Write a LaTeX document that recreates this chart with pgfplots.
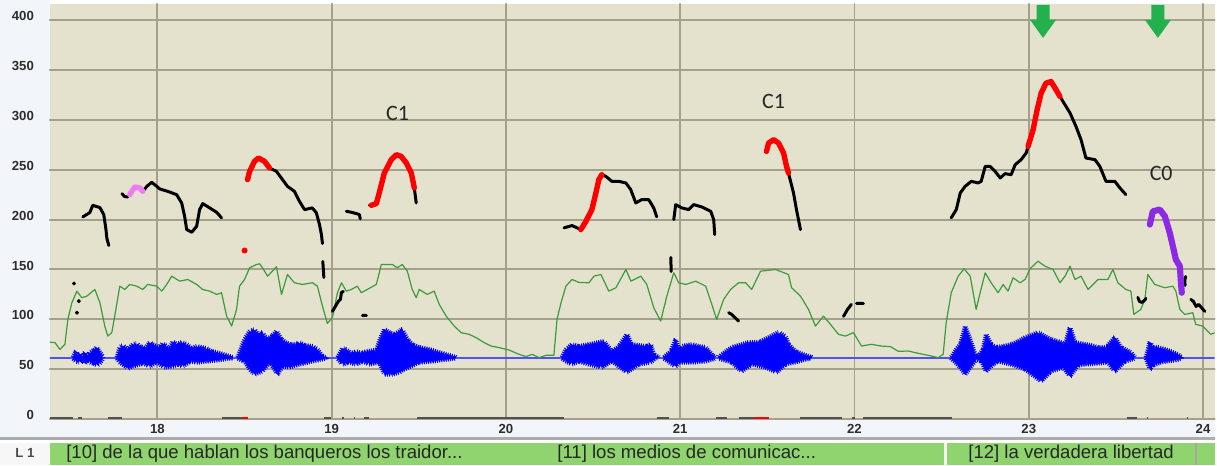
\documentclass[border=0pt]{standalone}
\usepackage{fontspec}
\setmainfont{Liberation Sans}
\newfontfamily\carlito{Carlito}
\usepackage{pgfplots}
\pgfplotsset{compat=1.18}
\usetikzlibrary{decorations.pathmorphing}

\definecolor{bgbeige}{RGB}{228,226,205}
\definecolor{gridgray}{RGB}{165,160,140}
\definecolor{stripbg}{RGB}{242,245,250}
\definecolor{labelgray}{RGB}{45,45,45}
\definecolor{wavblue}{RGB}{0,0,255}
\definecolor{baseblue}{RGB}{80,80,255}
\definecolor{intgreen}{RGB}{60,155,60}
\definecolor{pitchred}{RGB}{255,0,0}
\definecolor{pitchpink}{RGB}{240,125,240}
\definecolor{pitchpurple}{RGB}{140,40,230}
\definecolor{arrowgreen}{RGB}{34,177,76}
\definecolor{bargreen}{RGB}{143,212,110}
\definecolor{rulergray}{RGB}{80,80,80}

\pgfplotsset{wave/.style={fill=wavblue, draw=wavblue, line width=0.3pt,
    decorate, decoration={zigzag, segment length=1.1pt, amplitude=1.1pt}}}

\begin{document}
\begin{tikzpicture}
% background of the whole window
\fill[stripbg] (-25pt,-23pt) rectangle (583.5pt,210pt);
\fill[white] (0pt,208pt) rectangle (583.5pt,210pt);

\begin{axis}[
    name=ax, at={(0pt,0pt)}, anchor=south west,
    scale only axis, width=583.5pt, height=208pt,
    xmin=17.383, xmax=24.067, ymin=0, ymax=416,
    xtick={18,19,20,21,22,23,24},
    ytick={0,50,100,150,200,250,300,350,400},
    grid=major,
    major grid style={draw=gridgray, line width=1pt},
    axis line style={draw=none},
    major tick length=0pt,
    axis background/.style={fill=bgbeige},
    /pgf/number format/assume math mode=true,
    ticklabel style={font=\fontsize{6.6}{7}\selectfont\bfseries, text=labelgray},
    yticklabel style={xshift=-4.5pt, yshift=2pt},
    xticklabel style={yshift=1pt},
    unbounded coords=jump,
    line cap=round, line join=round,
]

% waveform baseline
\addplot[draw=baseblue, line width=0.9pt] coordinates {(17.383,61.7) (24.067,61.7)};

% waveform envelopes
\addplot[wave] coordinates {
(17.515,62)(17.532,68)(17.545,64)(17.555,66)(17.570,63)(17.584,67)(17.600,64)(17.612,67)(17.635,69)(17.652,72)(17.670,67)(17.687,63)
(17.687,61)(17.670,56)(17.652,54)(17.635,56)(17.612,57)(17.600,59)(17.584,56)(17.570,59)(17.555,57)(17.532,58)(17.515,61)} -- cycle;

\addplot[wave] coordinates {
(17.767,62)(17.784,72)(17.801,74)(17.830,70)(17.859,75)(17.880,76)(17.899,73)(17.930,71)(17.956,77)(17.973,75)(18.013,72)(18.030,76)(18.053,73)(18.070,70)(18.088,78)(18.110,75)(18.140,77)(18.168,75)(18.195,71)(18.225,73)(18.282,71)(18.310,68)(18.340,67)(18.397,64)(18.431,62)
(18.431,61)(18.414,61)(18.340,59)(18.282,58)(18.225,57)(18.190,58)(18.145,53)(18.120,55)(18.088,53)(18.040,52)(17.996,57)(17.956,53)(17.920,56)(17.859,53)(17.830,51)(17.784,57)(17.767,61)} -- cycle;

\addplot[wave] coordinates {
(18.460,62)(18.500,80)(18.529,88)(18.557,90)(18.580,84)(18.603,87)(18.626,80)(18.655,83)(18.683,88)(18.712,80)(18.735,77)(18.758,75)(18.798,75)(18.815,77)(18.844,74)(18.889,73)(18.918,70)(18.947,63)(18.970,62)
(18.970,61)(18.941,60)(18.889,58)(18.815,55)(18.758,52)(18.718,53)(18.689,45)(18.665,52)(18.643,57)(18.603,48)(18.557,45)(18.529,50)(18.500,58)(18.460,61)} -- cycle;

\addplot[wave] coordinates {
(19.033,62)(19.061,71)(19.084,70)(19.110,66)(19.142,68)(19.170,66)(19.199,68)(19.256,69)(19.273,78)(19.302,90)(19.331,87)(19.359,85)(19.388,88)(19.405,90)(19.434,80)(19.462,75)(19.502,72)(19.560,70)(19.617,67)(19.674,64)(19.714,62)
(19.714,61)(19.657,60)(19.577,58)(19.502,57)(19.456,53)(19.416,50)(19.388,47)(19.348,45)(19.302,45)(19.273,57)(19.216,55)(19.180,58)(19.142,55)(19.100,57)(19.061,55)(19.033,61)} -- cycle;

\addplot[wave] coordinates {
(20.321,62)(20.344,70)(20.379,75)(20.419,73)(20.476,75)(20.533,77)(20.562,78)(20.608,68)(20.648,73)(20.694,85)(20.722,75)(20.762,74)(20.802,73)(20.831,75)(20.848,65)(20.877,62)
(20.877,61)(20.860,61.7)(20.831,57)(20.762,55)(20.694,47)(20.608,58)(20.550,52)(20.476,55)(20.419,58)(20.379,55)(20.344,58)(20.321,61)} -- cycle;

\addplot[wave] coordinates {
(20.906,62)(20.946,68)(20.974,80)(20.991,70)(21.009,73)(21.066,75)(21.106,73)(21.146,72)(21.180,65)(21.203,62)
(21.203,61)(21.146,58)(21.066,57)(20.991,57)(20.974,53)(20.946,56)(20.906,61)} -- cycle;

\addplot[wave] coordinates {
(21.221,62)(21.238,65)(21.295,72)(21.352,75)(21.392,77)(21.450,77)(21.507,82)(21.564,87)(21.604,83)(21.621,75)(21.662,68)(21.719,64)(21.753,62)
(21.753,61)(21.736,60.7)(21.679,58)(21.604,55)(21.553,47)(21.490,52)(21.410,55)(21.352,48)(21.295,57)(21.238,60)(21.221,61)} -- cycle;

\addplot[wave] coordinates {
(22.555,62)(22.584,70)(22.607,75)(22.635,93)(22.664,80)(22.692,65)(22.710,63)(22.738,70)(22.755,85)(22.784,75)(22.813,72)(22.853,73)(22.899,75)(22.939,78)(22.979,82)(23.013,84)(23.053,87)(23.093,83)(23.128,80)(23.168,78)(23.208,75)(23.237,92)(23.265,77)(23.323,75)(23.357,74)(23.397,72)(23.443,72)(23.494,82)(23.529,72)(23.586,67)(23.609,62)
(23.609,61)(23.552,58)(23.494,48)(23.454,57)(23.397,56)(23.323,55)(23.282,54)(23.237,43)(23.196,52)(23.128,48)(23.071,38)(23.025,44)(22.979,50)(22.899,55)(22.824,58)(22.796,55)(22.755,48)(22.727,58)(22.698,60)(22.670,53)(22.635,45)(22.607,52)(22.584,56)(22.555,61)} -- cycle;

\addplot[wave] coordinates {
(23.672,62)(23.695,77)(23.712,72)(23.741,72)(23.781,70)(23.815,68)(23.855,65)(23.878,62)
(23.878,61)(23.838,59)(23.786,58)(23.758,57)(23.712,54)(23.695,50)(23.672,61)} -- cycle;

% intensity curve
\addplot[intgreen, line width=0.6pt] coordinates {
(17.383,77.3)(17.412,76.7)(17.440,70)(17.469,75)(17.486,100)(17.509,116.7)(17.538,128.3)(17.566,121.7)(17.595,123.3)(17.641,130)(17.670,116.7)(17.698,93.3)(17.715,83.3)(17.738,86.7)(17.755,103.3)(17.784,133.3)(17.813,130)(17.841,135)(17.881,133.3)(17.916,130)(17.944,135)(17.996,133.3)(18.025,128.3)(18.053,135)(18.082,143.3)(18.128,138.3)(18.174,140)(18.225,135)(18.259,130)(18.300,128.3)(18.340,125)(18.368,126.7)(18.397,103.3)(18.426,93.3)(18.454,110)(18.471,133.3)(18.500,140)(18.529,151.7)(18.569,155)(18.586,155.7)(18.603,151.7)(18.632,143.3)(18.683,152.7)(18.712,125)(18.746,145)(18.786,136.7)(18.832,135)(18.889,136.7)(18.918,133.3)(18.947,113.3)(18.975,96)(19.004,101.7)(19.033,126.7)(19.056,136.7)(19.084,128.3)(19.113,130)(19.147,133.3)(19.170,126.7)(19.204,130)(19.256,135)(19.285,155)(19.348,155)(19.376,151.7)(19.405,155)(19.434,148.3)(19.462,130)(19.485,121.7)(19.502,130)(19.548,125)(19.588,128.3)(19.617,115)(19.657,103.3)(19.703,93.3)(19.743,86.7)(19.789,85)(19.829,81.7)(19.875,76.7)(19.915,73.3)(19.961,71.7)(20.018,69.3)(20.075,65)(20.115,62.7)(20.150,65)(20.190,61.7)(20.230,64)(20.275,64)(20.293,100)(20.316,116.7)(20.344,133.3)(20.379,140)(20.419,137)(20.476,136.7)(20.505,143.3)(20.545,145)(20.590,128.3)(20.631,131.7)(20.688,150)(20.717,138.3)(20.774,143.3)(20.808,135)(20.848,111.7)(20.888,98.3)(20.923,123.3)(20.963,146.7)(20.991,136.7)(21.032,135)(21.089,138.3)(21.146,133.3)(21.175,118.3)(21.209,100)(21.249,120)(21.289,130)(21.335,136.7)(21.375,136.7)(21.410,130)(21.461,148.3)(21.547,150)(21.621,145)(21.639,131.7)(21.690,123.3)(21.736,110)(21.776,93.3)(21.822,103.3)(21.862,95)(21.908,85)(21.948,83.3)(21.994,86.7)(22.040,73.3)(22.097,75)(22.154,73.3)(22.206,72.7)(22.251,68)(22.309,68.3)(22.366,66)(22.423,64)(22.480,61.7)(22.509,65)(22.526,96.7)(22.555,126.7)(22.595,143.3)(22.629,150.7)(22.664,143.3)(22.698,110)(22.721,126.7)(22.750,146.7)(22.784,136.7)(22.824,126.7)(22.853,135)(22.881,128.3)(22.910,141.7)(22.950,136.7)(22.979,140)(23.007,150.7)(23.053,158.3)(23.093,153.3)(23.139,150)(23.179,136.7)(23.208,143.3)(23.237,153.3)(23.265,140)(23.300,143.3)(23.340,130)(23.397,140)(23.454,140)(23.483,150)(23.511,136.7)(23.557,130)(23.586,128.3)(23.603,105)(23.643,110)(23.666,120)(23.683,145)(23.723,135)(23.781,131.7)(23.827,133.3)(23.844,128.3)(23.867,110)(23.895,105)(23.941,106.7)(23.958,95)(23.998,93.3)(24.044,85)(24.067,86.7)};

% ruler marks at the bottom
\addplot[rulergray, line width=1pt, line cap=butt] coordinates {
(17.383,1.3)(17.515,1.3) (17.52,nan) (17.544,1.3)(17.566,1.3) (17.6,nan) (17.715,1.3)(17.796,1.3) (17.8,nan) (18.368,1.3)(18.483,1.3) (18.5,nan)
(18.958,1.3)(18.998,1.3) (19.0,nan) (19.061,1.3)(19.073,1.3) (19.1,nan) (19.130,1.3)(19.136,1.3) (19.15,nan) (19.187,1.3)(19.216,1.3) (19.3,nan)
(19.491,1.3)(20.333,1.3) (20.5,nan) (20.865,1.3)(20.934,1.3) (21.0,nan) (21.203,1.3)(21.266,1.3) (21.3,nan) (21.335,1.3)(21.421,1.3) (21.5,nan)
(21.690,1.3)(21.931,1.3) (21.95,nan) (21.988,1.3)(22.005,1.3) (22.02,nan) (22.051,1.3)(22.561,1.3) (22.6,nan) (23.563,1.3)(23.620,1.3) (23.65,nan)
(23.680,1.3)(23.686,1.3) (23.7,nan) (23.909,1.3)(23.915,1.3)};
\addplot[pitchred, line width=1pt, line cap=butt] coordinates {
(18.483,1.3)(18.517,1.3) (19,nan) (21.421,1.3)(21.507,1.3)};

% pitch contour, black parts
\addplot[black, line width=1.5pt] coordinates {
(17.572,202.7)(17.612,207)(17.629,214.3)(17.670,212)(17.692,205)(17.704,191)(17.710,181)(17.721,174) (17.75,nan)
(17.796,226)(17.812,223)(17.830,222.7) (17.87,nan)
(17.916,228.3)(17.939,233.3)(17.967,237.3)(17.996,233.3)(18.013,230.7)(18.059,228.3)(18.110,225)(18.139,216.7)(18.156,203.3)(18.168,190)(18.197,187.3)(18.225,193.3)(18.242,210)(18.260,216)(18.300,211.7)(18.340,207.3)(18.368,201.7) (18.5,nan)
(18.643,251.7)(18.683,248.3)(18.718,240)(18.746,233.3)(18.786,228.3)(18.815,218.3)(18.844,210)(18.889,211.7)(18.912,206.7)(18.930,195)(18.941,185)(18.947,176) (18.948,nan)
(18.949,158)(18.955,142) (18.98,nan)
(19.004,108)(19.021,113)(19.038,118)(19.050,120)(19.056,127)(19.067,128) (19.07,nan)
(19.084,208.3)(19.113,207.3)(19.142,206)(19.159,205)(19.164,200.7) (19.17,nan)
(19.176,104)(19.199,104) (19.21,nan)
(19.216,214.3)(19.227,214.3) (19.3,nan)
(19.474,231.7)(19.485,216.7) (20,nan)
(20.333,191.7)(20.379,194)(20.430,190) (20.5,nan)
(20.550,245)(20.573,243.3)(20.608,238.3)(20.648,238.3)(20.688,236.7)(20.716,230)(20.745,216.7)(20.779,220)(20.819,220)(20.848,211.7)(20.865,202.7) (20.9,nan)
(20.946,162)(20.948,148) (20.95,nan)
(20.963,200)(20.974,215)(21.009,211.7)(21.049,210)(21.077,215)(21.123,212.7)(21.175,208.3)(21.192,200)(21.198,185) (21.25,nan)
(21.278,106.7)(21.295,105)(21.335,98.3) (21.5,nan)
(21.621,246.7)(21.650,226.7)(21.667,210)(21.690,190) (21.8,nan)
(21.937,103)(21.960,110)(21.982,115) (22.0,nan)
(22.011,116)(22.051,116) (22.3,nan)
(22.555,201.7)(22.584,210)(22.607,226.7)(22.635,233.3)(22.670,238.3)(22.710,236.7)(22.727,238.3)(22.750,253.3)(22.778,253.3)(22.807,248.3)(22.836,241.7)(22.864,246)(22.899,245)(22.922,255)(22.956,260)(22.985,266.7)(22.996,273.3) (23.1,nan)
(23.179,323.3)(23.208,315)(23.237,306.7)(23.271,293.3)(23.300,280)(23.328,261.7)(23.380,260)(23.408,253.3)(23.443,238.3)(23.494,238.3)(23.523,231.7)(23.557,225) (23.6,nan)
(23.626,122)(23.635,118)(23.650,117)(23.664,119)(23.672,121) (23.8,nan)
(23.900,143)(23.895,139)(23.897,134) (23.92,nan)
(23.930,120)(23.945,118)(23.960,113)(23.975,115)(23.990,112)(24.010,108)};

% pitch contour, highlighted parts
\addplot[pitchred, line width=2.7pt] coordinates {
(18.517,240)(18.529,248.3)(18.557,258.3)(18.580,261.7)(18.615,258.3)(18.643,251.7) (19,nan)
(19.227,214.3)(19.256,216)(19.273,226.7)(19.302,246.7)(19.342,260)(19.371,265)(19.399,263.3)(19.428,256.7)(19.457,246.7)(19.474,231.7) (20,nan)
(20.430,190)(20.459,198.3)(20.493,210)(20.516,226.7)(20.533,240)(20.550,245) (21,nan)
(21.495,268.3)(21.507,276.7)(21.536,280)(21.564,276.7)(21.593,266.7)(21.610,253.3)(21.621,246.7) (22,nan)
(22.996,273.3)(23.025,290)(23.048,310)(23.071,326.7)(23.099,336.7)(23.128,338.3)(23.151,331.7)(23.179,323.3)};
\addplot[pitchpink, line width=2.7pt] coordinates {
(17.841,225)(17.870,232.7)(17.899,231.7)(17.916,228.3)};
\addplot[pitchpurple, line width=3.1pt] coordinates {
(23.695,195)(23.712,208.3)(23.752,210)(23.781,203.3)(23.809,186.7)(23.827,173.3)(23.844,160)(23.867,153.3)(23.872,140)(23.878,126.7)};

% isolated points
\addplot[only marks, mark=*, mark size=0.8pt, black] coordinates {(17.521,136)(17.549,118.3)(17.538,106.7)};
\addplot[only marks, mark=*, mark size=1.3pt, pitchred, mark options={draw=pitchred}] coordinates {(18.500,169)};

% green arrows
\addplot[fill=arrowgreen, draw=none] coordinates {
(23.045,415)(23.045,400)(23.008,400)(23.082,382)(23.156,400)(23.119,400)(23.119,415)} -- cycle;
\addplot[fill=arrowgreen, draw=none] coordinates {
(23.704,415)(23.704,400)(23.667,400)(23.741,382)(23.815,400)(23.778,400)(23.778,415)} -- cycle;

% annotations
\node[font=\carlito\fontsize{11}{12}\selectfont, text=black!85] at (axis cs:19.378,306.7) {C1};
\node[font=\carlito\fontsize{11}{12}\selectfont, text=black!85] at (axis cs:21.536,318.3) {C1};
\node[font=\carlito\fontsize{11}{12}\selectfont, text=black!85] at (axis cs:23.760,246.7) {C0};
\end{axis}

% annotation tier below the plot
\fill[gray!65] (-25pt,-9pt) rectangle (583.5pt,-10.5pt);
\fill[white] (-25pt,-10.5pt) rectangle (583.5pt,-11.75pt);
\fill[gray!6] (-25pt,-11.75pt) rectangle (0pt,-23pt);
\fill[bargreen] (0pt,-11.75pt) rectangle (583.5pt,-23pt);
\fill[white!90!bargreen] (448pt,-11.75pt) rectangle (449.3pt,-23pt);
\fill[gray!70] (573.8pt,-11.75pt) rectangle (574.5pt,-23pt);
\node[anchor=base, font=\fontsize{6.6}{7}\selectfont\bfseries, text=black!70] at (-12.5pt,-19pt) {L 1};
\node[anchor=base west, inner sep=0pt, font=\fontsize{9.3}{10}\selectfont, text=black!85] at (8pt,-19.5pt) {[10] de la que hablan los banqueros los traidor...};
\node[anchor=base west, inner sep=0pt, font=\fontsize{9.3}{10}\selectfont, text=black!85] at (254pt,-19.5pt) {[11] los medios de comunicac...};
\node[anchor=base west, inner sep=0pt, font=\fontsize{9.3}{10}\selectfont, text=black!85] at (459.9pt,-19.5pt) {[12] la verdadera libertad};
\end{tikzpicture}
\end{document}
